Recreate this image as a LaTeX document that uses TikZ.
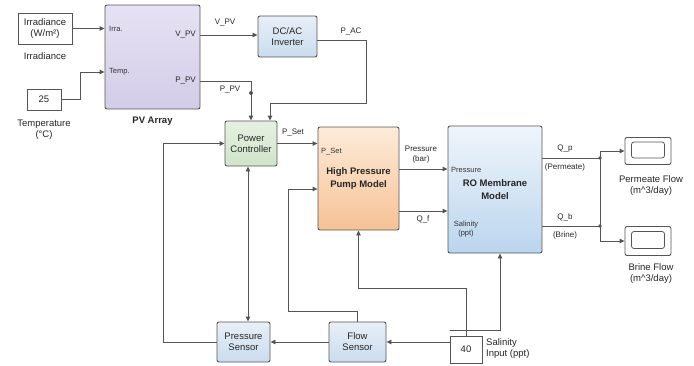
\documentclass[tikz,border=0pt]{standalone}
\usepackage{fontspec}
\setmainfont{Liberation Sans}
\usepackage{xcolor}
\usetikzlibrary{positioning, arrows.meta, calc}

\definecolor{line_gray}{HTML}{555555}
\definecolor{pv_top}{HTML}{E6E2F3}
\definecolor{pv_bot}{HTML}{D3CCE8}
\definecolor{pc_top}{HTML}{E6F1E1}
\definecolor{pc_bot}{HTML}{CFE4C8}
\definecolor{hpp_top}{HTML}{FDEBDA}
\definecolor{hpp_bot}{HTML}{F6C295}
\definecolor{ro_top}{HTML}{EFF5FB}
\definecolor{ro_bot}{HTML}{BBD5EE}
\definecolor{bl_top}{HTML}{E8EFF8}
\definecolor{bl_bot}{HTML}{CADCEE}

\tikzstyle{block_node}=[draw=line_gray, line width=0.9pt, rounded corners=2pt, inner sep=1pt, align=center, text=black!85, font=\fontsize{9.5}{11}\selectfont]
\tikzstyle{title_block}=[block_node, font=\fontsize{9.5}{13}\selectfont\bfseries]
\tikzstyle{src_node}=[draw=line_gray, line width=0.8pt, fill=white, inner sep=1pt, align=center, text=black!85, font=\fontsize{9.5}{11}\selectfont]
\tikzstyle{label_node}=[inner sep=1pt, align=center, text=black!85, font=\fontsize{9.5}{11}\selectfont]
\tikzstyle{title_node}=[label_node, font=\fontsize{9.5}{11}\selectfont\bfseries]
\tikzstyle{sig_node}=[inner sep=1pt, align=center, text=black!85, font=\fontsize{8}{10}\selectfont]
\tikzstyle{port_node}=[inner sep=1pt, align=center, text=black!80, font=\fontsize{7.5}{9}\selectfont]
\tikzstyle{screen_node}=[draw=line_gray, line width=0.8pt, rounded corners=2.5pt, fill=white, inner sep=0pt]
\tikzstyle{sig_line}=[line_gray, line width=0.9pt, -{Triangle[length=5pt,width=4.5pt]}]
\tikzstyle{sig_both}=[line_gray, line width=0.9pt, {Triangle[length=5pt,width=4.5pt]}-{Triangle[length=5pt,width=4.5pt]}]

\begin{document}
\begin{tikzpicture}[x=1pt, y=-1pt]
    \useasboundingbox (0,0) rectangle (694,365);

    \node[src_node, minimum width=54pt, minimum height=31pt] at (45,28.5) (irr_src) {Irradiance\\(W/m²)};
    \node[label_node] at (45,56) (irr_lbl) {Irradiance};
    \node[src_node, minimum width=34pt, minimum height=21pt] at (44,99.5) (temp_src) {25};
    \node[label_node] at (44,129.5) (temp_lbl) {Temperature\\(°C)};

    \node[block_node, top color=pv_top, bottom color=pv_bot, minimum width=95pt, minimum height=104pt] at (152.5,57) (pv_array) {};
    \node[title_node] at (152.5,121) (pv_lbl) {PV Array};
    \node[port_node, anchor=west] at (108,29) (pv_irr) {Irra.};
    \node[port_node, anchor=west] at (108,72) (pv_temp) {Temp.};
    \node[sig_node, anchor=east] at (197,35) (pv_v) {V\_PV};
    \node[sig_node, anchor=east] at (197,81) (pv_p) {P\_PV};

    \node[block_node, top color=bl_top, bottom color=bl_bot, minimum width=59pt, minimum height=41pt] at (287.5,36.5) (inverter) {DC/AC\\Inverter};
    \node[block_node, top color=pc_top, bottom color=pc_bot, minimum width=52pt, minimum height=45pt] at (251,143.5) (pc) {Power\\Controller};
    \node[title_block, top color=hpp_top, bottom color=hpp_bot, minimum width=81pt, minimum height=103pt] at (358.5,178.5) (hpp) {High Pressure\\Pump Model};
    \node[port_node, anchor=west] at (320,152) (hpp_pset) {P\_Set};
    \node[title_block, top color=ro_top, bottom color=ro_bot, minimum width=94pt, minimum height=127pt] at (495,189.5) (ro) {RO Membrane\\Model};
    \node[port_node, anchor=west] at (450,170) (ro_press) {Pressure};
    \node[port_node] at (466,229) (ro_sal) {Salinity\\(ppt)};

    \node[block_node, fill=white, minimum width=46pt, minimum height=27pt] at (648,151) (scope_p) {};
    \node[screen_node, minimum width=33pt, minimum height=16pt] at (648,150) (screen_p) {};
    \node[label_node] at (651,186) (scope_p_lbl) {Permeate Flow\\(m\textasciicircum3/day)};
    \node[block_node, fill=white, minimum width=46pt, minimum height=29pt] at (648,241) (scope_b) {};
    \node[screen_node, minimum width=33pt, minimum height=17pt] at (648,240) (screen_b) {};
    \node[label_node] at (651,274) (scope_b_lbl) {Brine Flow\\(m\textasciicircum3/day)};

    \node[block_node, top color=bl_top, bottom color=bl_bot, minimum width=53pt, minimum height=40pt] at (243.5,342) (press_sensor) {Pressure\\Sensor};
    \node[block_node, top color=bl_top, bottom color=bl_bot, minimum width=57pt, minimum height=40pt] at (357.5,342) (flow_sensor) {Flow\\Sensor};
    \node[src_node, minimum width=32pt, minimum height=27pt] at (466,349.5) (sal_src) {40};
    \node[label_node, anchor=west, align=left] at (485,348.5) (sal_lbl) {Salinity\\Input (ppt)};

    \node[sig_node] at (225,23) (v_lbl) {V\_PV};
    \node[sig_node] at (351,31) (pac_lbl) {P\_AC};
    \node[sig_node] at (230,90) (ppv_lbl) {P\_PV};
    \node[sig_node] at (293,132) (pset_lbl) {P\_Set};
    \node[sig_node] at (421,155) (press_lbl) {Pressure\\(bar)};
    \node[sig_node] at (423,219) (qf_lbl) {Q\_f};
    \node[sig_node] at (565,149) (qp_lbl) {Q\_p};
    \node[sig_node] at (565,167) (perm_lbl) {(Permeate)};
    \node[sig_node] at (565,217) (qb_lbl) {Q\_b};
    \node[sig_node] at (565,235) (brine_lbl) {(Brine)};

    \coordinate (temp_turn) at (80,99.5);
    \coordinate (pac_turn) at (366,103);
    \coordinate (pv_dot) at (251,93);
    \coordinate (fb_left) at (163,342);
    \coordinate (fb_flow) at (288,311);
    \coordinate (sal_turn) at (466,288);
    \coordinate (j_p) at (600,158);
    \coordinate (j_b) at (600,226);

    \draw[sig_line] (irr_src.east) -- (irr_src.east -| pv_array.west);
    \draw[sig_line] (temp_src.east) -- (temp_turn) |- (pv_temp -| pv_array.west);
    \draw[sig_line] (pv_v -| pv_array.east) -- (pv_v -| inverter.west);
    \draw[sig_line] (pv_p -| pv_array.east) -| (pc.north);
    \fill[line_gray] (pv_dot) circle (2pt);
    \draw[sig_line] ([yshift=-3.5pt]inverter.east) -| (pac_turn) -| ([xshift=19pt]pc.north);
    \draw[sig_line] (pc.east) -- (pc.east -| hpp.west);
    \draw[sig_line] (press_sensor.west) -- (fb_left) |- (pc.west);
    \draw[sig_both] ([xshift=-3pt]pc.south) -- ([xshift=-3pt]pc.south |- press_sensor.north);
    \draw[sig_line] (flow_sensor.north) |- (fb_flow) |- ([yshift=-10.5pt]hpp.west);
    \draw[sig_line] (sal_src.north) -- (sal_turn) -| (hpp.south);
    \draw[sig_line] ([yshift=5pt]sal_src.north west) -| ([xshift=5pt]ro.south);
    \draw[sig_line] (sal_src.west |- flow_sensor) -- (flow_sensor.east);
    \draw[sig_line] (flow_sensor.west) -- (press_sensor.east);
    \draw[sig_line] ([yshift=9.5pt]hpp.east) -- ([yshift=9.5pt]hpp.east -| ro.west);
    \draw[sig_line] ([yshift=-32.5pt]hpp.east) -- ([yshift=-32.5pt]hpp.east -| ro.west);
    \draw[line_gray, line width=0.9pt] (ro.east |- j_p) -- (j_p) -- (j_b) -- (ro.east |- j_b);
    \draw[sig_line] (j_p) |- (scope_p.west);
    \draw[sig_line] (j_b) |- (scope_b.west);
    \fill[line_gray] (j_p) circle (1.8pt) (j_b) circle (1.8pt);
\end{tikzpicture}
\end{document}
